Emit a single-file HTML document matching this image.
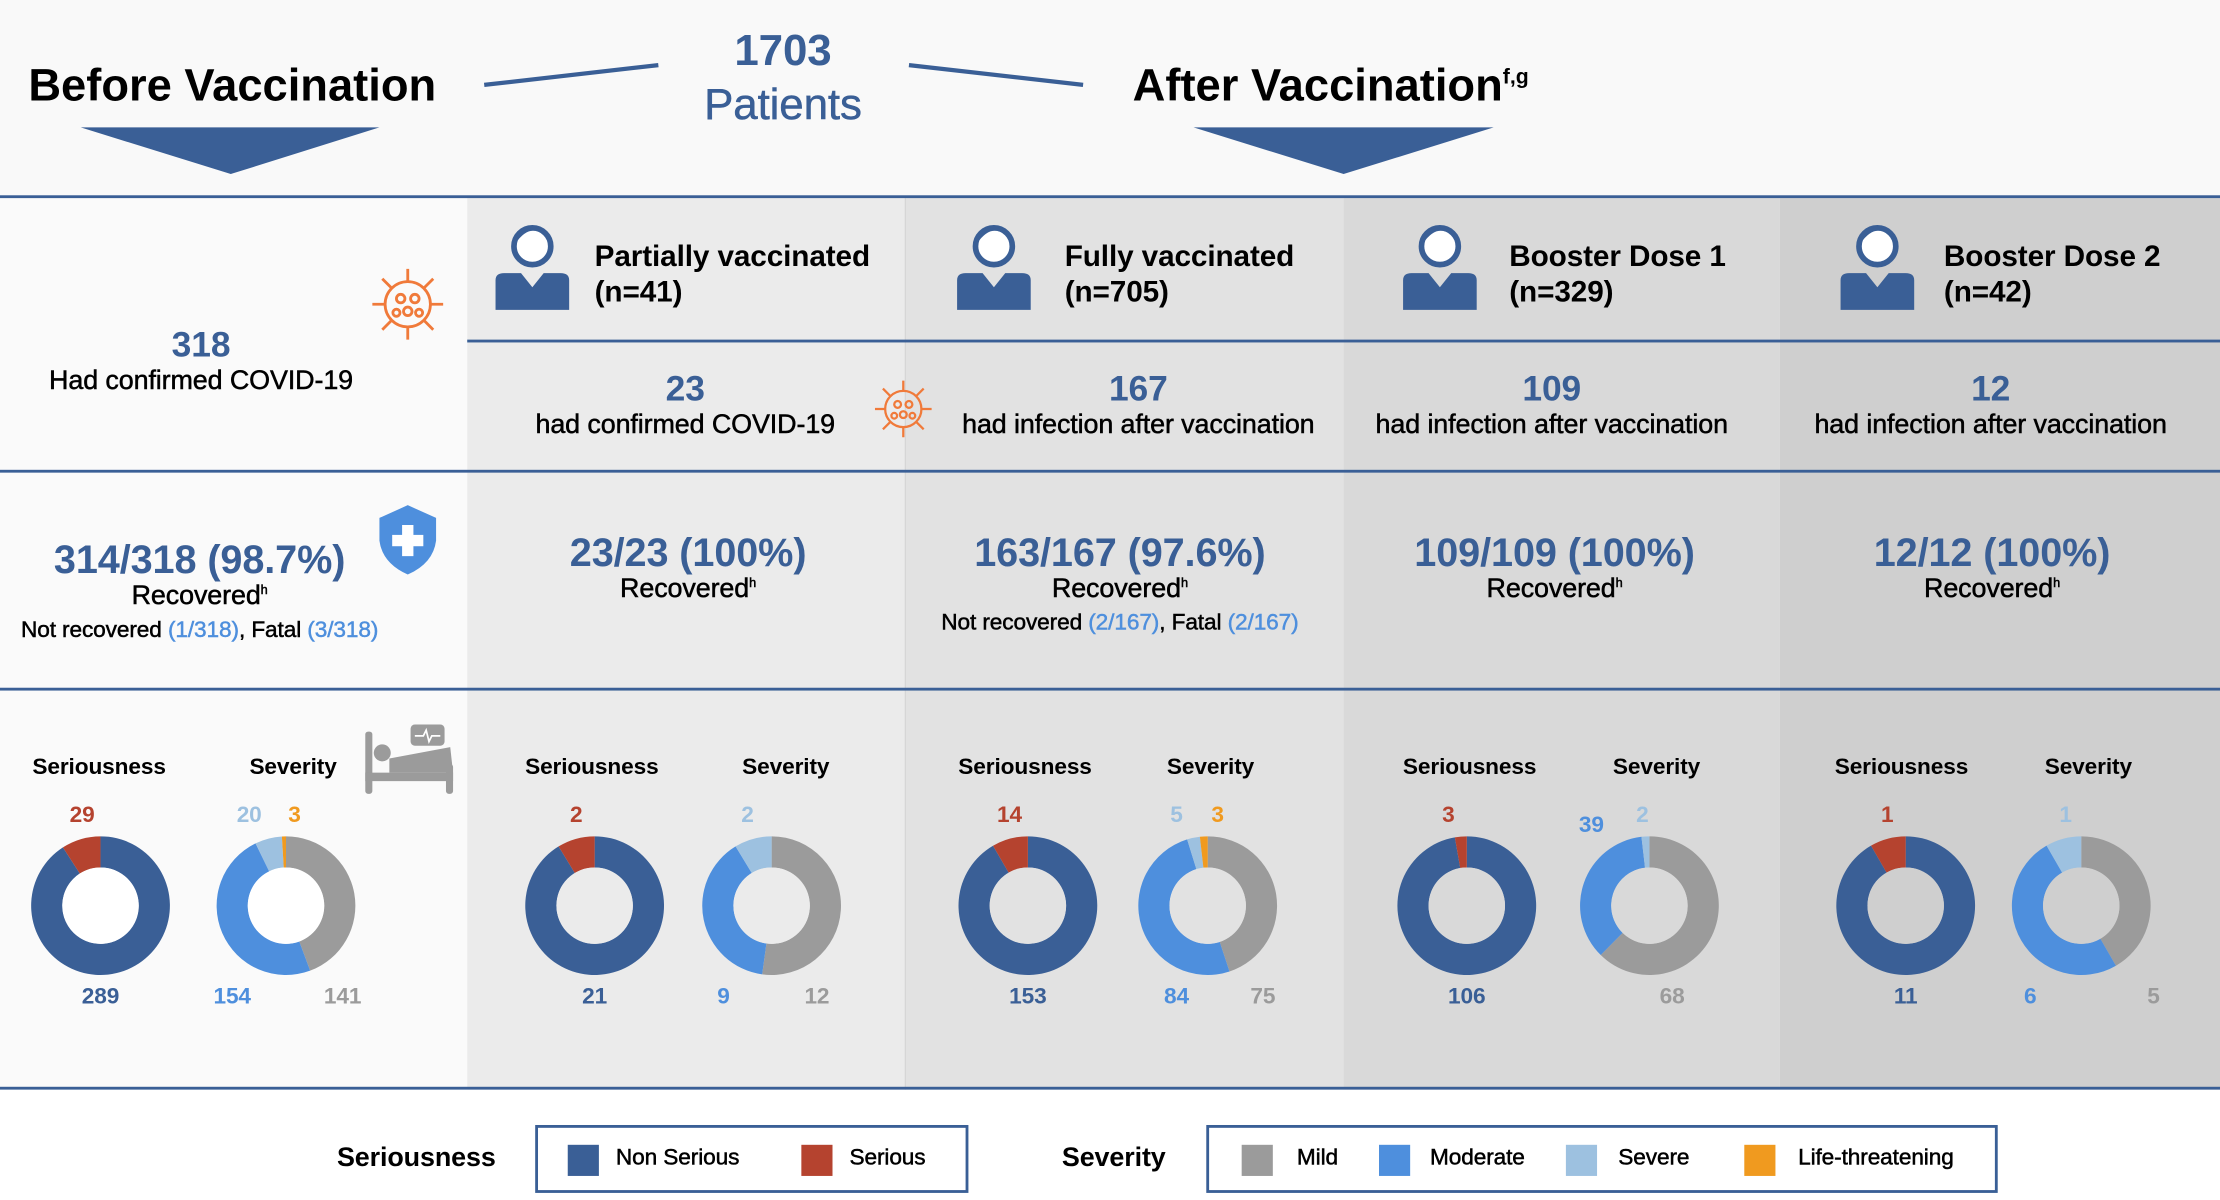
<!DOCTYPE html>
<html><head><meta charset="utf-8"><style>
html,body{margin:0;padding:0;background:#fff;}
#wrap{width:2220px;height:1200px;overflow:hidden;position:relative;}
#s{position:absolute;left:0;top:0;width:1568px;height:848px;transform:scale(1.41582,1.41509);transform-origin:0 0;font-family:"Liberation Sans",sans-serif;font-weight:bold;letter-spacing:-0.005em;}
.a{position:absolute;white-space:nowrap;}
.c{position:absolute;white-space:nowrap;transform:translateX(-50%);text-align:center;}
.b{color:#3a5f96}.lb{color:#4e8fdd}
.bg{position:absolute;}
.hl{position:absolute;height:2px;background:#3a5f96;}
.n{font-weight:normal;-webkit-text-stroke:0.35px currentColor;}
</style></head><body><div id="wrap"><div id="s">
<div class="bg" style="left:0;top:0;width:1568px;height:140px;background:#f9f9f9"></div>
<div class="bg" style="left:0;top:140px;width:330px;height:630px;background:#fafafa"></div>
<div class="bg" style="left:330px;top:140px;width:310px;height:630px;background:#ebebeb"></div>
<div class="bg" style="left:640px;top:140px;width:309px;height:630px;background:#e2e2e2"></div>
<div class="bg" style="left:949px;top:140px;width:308px;height:630px;background:#d9d9d9"></div>
<div class="bg" style="left:1257px;top:140px;width:311px;height:630px;background:#cfcfcf"></div>
<div class="bg" style="left:639px;top:140px;width:1px;height:630px;background:#d6d6d6"></div>
<div class="hl" style="left:0;top:138px;width:1568px"></div>
<div class="hl" style="left:330px;top:240px;width:1238px;height:1.5px"></div>
<div class="hl" style="left:0;top:332px;width:1568px"></div>
<div class="hl" style="left:0;top:486px;width:1568px"></div>
<div class="hl" style="left:0;top:768px;width:1568px"></div>

<svg style="position:absolute;left:0;top:0" width="1568" height="848">
<polygon points="57,90 268,90 163,123" fill="#3a5f96"/>
<polygon points="843,90 1055,90 949,123" fill="#3a5f96"/>
<line x1="342" y1="60" x2="465" y2="46" stroke="#3a5f96" stroke-width="3"/>
<line x1="642" y1="46" x2="765" y2="60" stroke="#3a5f96" stroke-width="3"/>
<g id="persons"></g>
<g id="donuts"></g>
<g fill="none" stroke="#f07a3a" stroke-width="2">
<g transform="translate(288,215)"><circle r="16"/><circle cx="-5" cy="-4" r="3"/><circle cx="5" cy="-4" r="3"/><circle cx="0" cy="5" r="3"/><circle cx="-8" cy="6" r="2.5"/><circle cx="8" cy="6" r="2.5"/>
<path d="M0,-16V-25M11,-11L18,-18M16,0H25M11,11L18,18M0,16V25M-11,11L-18,18M-16,0H-25M-11,-11L-18,-18"/></g>
<g transform="translate(638,289) scale(0.8)"><circle r="16"/><circle cx="-5" cy="-4" r="3"/><circle cx="5" cy="-4" r="3"/><circle cx="0" cy="5" r="3"/><circle cx="-8" cy="6" r="2.5"/><circle cx="8" cy="6" r="2.5"/>
<path d="M0,-16V-25M11,-11L18,-18M16,0H25M11,11L18,18M0,16V25M-11,11L-18,18M-16,0H-25M-11,-11L-18,-18"/></g>
</g>
<path d="M288,357 L308,366 L308,382 Q306,398 288,406 Q270,398 268,382 L268,366 Z" fill="#4e8fdd"/>
<rect x="284" y="371" width="8" height="22" fill="#fff"/><rect x="277" y="378" width="22" height="8" fill="#fff"/>
<g fill="#9b9b9b">
<rect x="258" y="517" width="5" height="44" rx="2"/>
<rect x="258" y="546" width="62" height="6"/>
<rect x="315" y="540" width="5" height="21" rx="2"/>
<circle cx="270" cy="532" r="6"/>
<path d="M275,536 L318,528 L320,546 L275,546 Z"/>
<rect x="290" y="512" width="24" height="15" rx="3"/>
</g>
<path d="M293,520 h6 l2,-4 l2,8 l2,-4 h6" stroke="#fff" stroke-width="1.2" fill="none"/>
<rect x="379" y="796" width="304" height="46" fill="none" stroke="#3a5f96" stroke-width="2"/>
<rect x="853" y="796" width="557" height="46" fill="none" stroke="#3a5f96" stroke-width="2"/>
<rect x="401" y="809" width="22" height="22" fill="#3a5f96"/>
<rect x="566" y="809" width="22" height="22" fill="#b5432f"/>
<rect x="877" y="809" width="22" height="22" fill="#9b9b9b"/>
<rect x="974" y="809" width="22" height="22" fill="#4e8fdd"/>
<rect x="1106" y="809" width="22" height="22" fill="#9dc1e0"/>
<rect x="1232" y="809" width="22" height="22" fill="#f09a1f"/>
</svg>

<div class="a" style="left:20px;top:42px;font-size:32px;color:#000;letter-spacing:0">Before Vaccination</div>
<div class="a" style="left:800px;top:42px;font-size:32px;color:#000;letter-spacing:0">After Vaccination<sup style="font-size:15px;vertical-align:12px">f,g</sup></div>
<div class="c b" style="left:553px;top:18px;font-size:31px">1703</div>
<div class="c b n" style="left:553px;top:56px;font-size:31px">Patients</div>

<div class="a" style="left:420px;top:169px;font-size:21px;line-height:25px">Partially vaccinated<br>(n=41)</div>
<div class="a" style="left:752px;top:169px;font-size:21px;line-height:25px">Fully vaccinated<br>(n=705)</div>
<div class="a" style="left:1066px;top:169px;font-size:21px;line-height:25px">Booster Dose 1<br>(n=329)</div>
<div class="a" style="left:1373px;top:169px;font-size:21px;line-height:25px">Booster Dose 2<br>(n=42)</div>

<div class="c b" style="left:142px;top:230px;font-size:25px">318</div>
<div class="c n" style="left:142px;top:259px;font-size:19px">Had confirmed COVID-19</div>
<div class="c b" style="left:484px;top:261px;font-size:25px">23</div>
<div class="c n" style="left:484px;top:290px;font-size:19px">had confirmed COVID-19</div>
<div class="c b" style="left:804px;top:261px;font-size:25px">167</div>
<div class="c n" style="left:804px;top:290px;font-size:19px">had infection after vaccination</div>
<div class="c b" style="left:1096px;top:261px;font-size:25px">109</div>
<div class="c n" style="left:1096px;top:290px;font-size:19px">had infection after vaccination</div>
<div class="c b" style="left:1406px;top:261px;font-size:25px">12</div>
<div class="c n" style="left:1406px;top:290px;font-size:19px">had infection after vaccination</div>

<div class="c b" style="left:141px;top:380px;font-size:28px">314/318 (98.7%)</div>
<div class="c n" style="left:141px;top:411px;font-size:19px">Recovered<sup style="font-size:9px">h</sup></div>
<div class="c n" style="left:141px;top:437px;font-size:16px">Not recovered <span class="lb">(1/318)</span>, Fatal <span class="lb">(3/318)</span></div>
<div class="c b" style="left:486px;top:375px;font-size:28px">23/23 (100%)</div>
<div class="c n" style="left:486px;top:406px;font-size:19px">Recovered<sup style="font-size:9px">h</sup></div>
<div class="c b" style="left:791px;top:375px;font-size:28px">163/167 (97.6%)</div>
<div class="c n" style="left:791px;top:406px;font-size:19px">Recovered<sup style="font-size:9px">h</sup></div>
<div class="c n" style="left:791px;top:432px;font-size:16px">Not recovered <span class="lb">(2/167)</span>, Fatal <span class="lb">(2/167)</span></div>
<div class="c b" style="left:1098px;top:375px;font-size:28px">109/109 (100%)</div>
<div class="c n" style="left:1098px;top:406px;font-size:19px">Recovered<sup style="font-size:9px">h</sup></div>
<div class="c b" style="left:1407px;top:375px;font-size:28px">12/12 (100%)</div>
<div class="c n" style="left:1407px;top:406px;font-size:19px">Recovered<sup style="font-size:9px">h</sup></div>

<div id="lbls"></div>

<div class="a" style="left:238px;top:808px;font-size:19px">Seriousness</div>
<div class="a n" style="left:435px;top:810px;font-size:16px">Non Serious</div>
<div class="a n" style="left:600px;top:810px;font-size:16px">Serious</div>
<div class="a" style="left:750px;top:808px;font-size:19px">Severity</div>
<div class="a n" style="left:916px;top:810px;font-size:16px">Mild</div>
<div class="a n" style="left:1010px;top:810px;font-size:16px">Moderate</div>
<div class="a n" style="left:1143px;top:810px;font-size:16px">Severe</div>
<div class="a n" style="left:1270px;top:810px;font-size:16px">Life-threatening</div>
</div></div>
<script>
var NS='http://www.w3.org/2000/svg';
var C={ns:'#3a5f96',se:'#b5432f',mi:'#9b9b9b',mo:'#4e8fdd',sv:'#9dc1e0',lt:'#f09a1f'};
function arc(cx,cy,R,r,a0,a1){
 function p(rad,a){a=(a-90)*Math.PI/180;return [cx+rad*Math.cos(a),cy+rad*Math.sin(a)];}
 if(a1-a0>=359.99)a1=a0+359.99;
 var L=(a1-a0)>180?1:0;var A=p(R,a0),B=p(R,a1),Cc=p(r,a1),D=p(r,a0);
 return 'M'+A+' A'+R+','+R+' 0 '+L+' 1 '+B+' L'+Cc+' A'+r+','+r+' 0 '+L+' 0 '+D+'Z';
}
var g=document.getElementById('donuts');
function donut(cx,cy,segs,hole){
 var tot=0;segs.forEach(function(s){tot+=s[0];});var a=0;
 segs.forEach(function(s){if(!s[0])return;var e=a+360*s[0]/tot;var p=document.createElementNS(NS,'path');p.setAttribute('d',arc(cx,cy,49,27,a,e));p.setAttribute('fill',s[1]);g.appendChild(p);a=e;});
 var c=document.createElementNS(NS,'circle');c.setAttribute('cx',cx);c.setAttribute('cy',cy);c.setAttribute('r',27);c.setAttribute('fill',hole);g.appendChild(c);
}
var cols=[
 {s:71,v:202,ns:289,se:29,mi:141,mo:154,sv:20,lt:3,h:'#ffffff',sl:70,vl:207},
 {s:420,v:545,ns:21,se:2,mi:12,mo:9,sv:2,lt:0,h:'#ebebeb',sl:418,vl:555},
 {s:726,v:853,ns:153,se:14,mi:75,mo:84,sv:5,lt:3,h:'#e2e2e2',sl:724,vl:855},
 {s:1036,v:1165,ns:106,se:3,mi:68,mo:39,sv:2,lt:0,h:'#d9d9d9',sl:1038,vl:1170},
 {s:1346,v:1470,ns:11,se:1,mi:5,mo:6,sv:1,lt:0,h:'#cfcfcf',sl:1343,vl:1475}
];
var L=document.getElementById('lbls'),html='';
function t(x,y,txt,col,sz){html+='<div class="c" style="left:'+x+'px;top:'+y+'px;font-size:'+(sz||16)+'px;color:'+col+'">'+txt+'</div>';}
cols.forEach(function(c,i){
 donut(c.s,640,[[c.ns,C.ns],[c.se,C.se]],c.h);
 donut(c.v,640,[[c.mi,C.mi],[c.mo,C.mo],[c.sv,C.sv],[c.lt,C.lt]],c.h);
 t(c.sl,534,'Seriousness','#000');t(c.vl,534,'Severity','#000');
 t(c.s-13,568,c.se,C.se);t(c.s,696,c.ns,C.ns);
});
t(176,568,'20',C.sv);t(208,568,'3',C.lt);t(164,696,'154',C.mo);t(242,696,'141',C.mi);
t(528,568,'2',C.sv);t(511,696,'9',C.mo);t(577,696,'12',C.mi);
t(831,568,'5',C.sv);t(860,568,'3',C.lt);t(831,696,'84',C.mo);t(892,696,'75',C.mi);
t(1124,575,'39',C.mo);t(1160,568,'2',C.sv);t(1181,696,'68',C.mi);
t(1459,568,'1',C.sv);t(1434,696,'6',C.mo);t(1521,696,'5',C.mi);
L.innerHTML=html;
var pg=document.getElementById('persons'),ps='';
[376,702,1017,1326].forEach(function(x){
 ps+='<circle cx="'+x+'" cy="174" r="13" fill="#fff" stroke="#3a5f96" stroke-width="4"/>';
 ps+='<path d="M'+(x-12)+',172 Q'+x+',155 '+(x+12)+',170 Q'+(x+14)+',163 '+x+',160 Q'+(x-14)+',162 '+(x-12)+',172Z" fill="#3a5f96"/>';
 ps+='<path d="M'+(x-26)+',198 Q'+(x-26)+',193 '+(x-20)+',193 L'+(x-8)+',193 L'+x+',203 L'+(x+8)+',193 L'+(x+20)+',193 Q'+(x+26)+',193 '+(x+26)+',198 L'+(x+26)+',219 L'+(x-26)+',219Z" fill="#3a5f96"/>';
});
pg.innerHTML=ps;
</script>
</body></html>
